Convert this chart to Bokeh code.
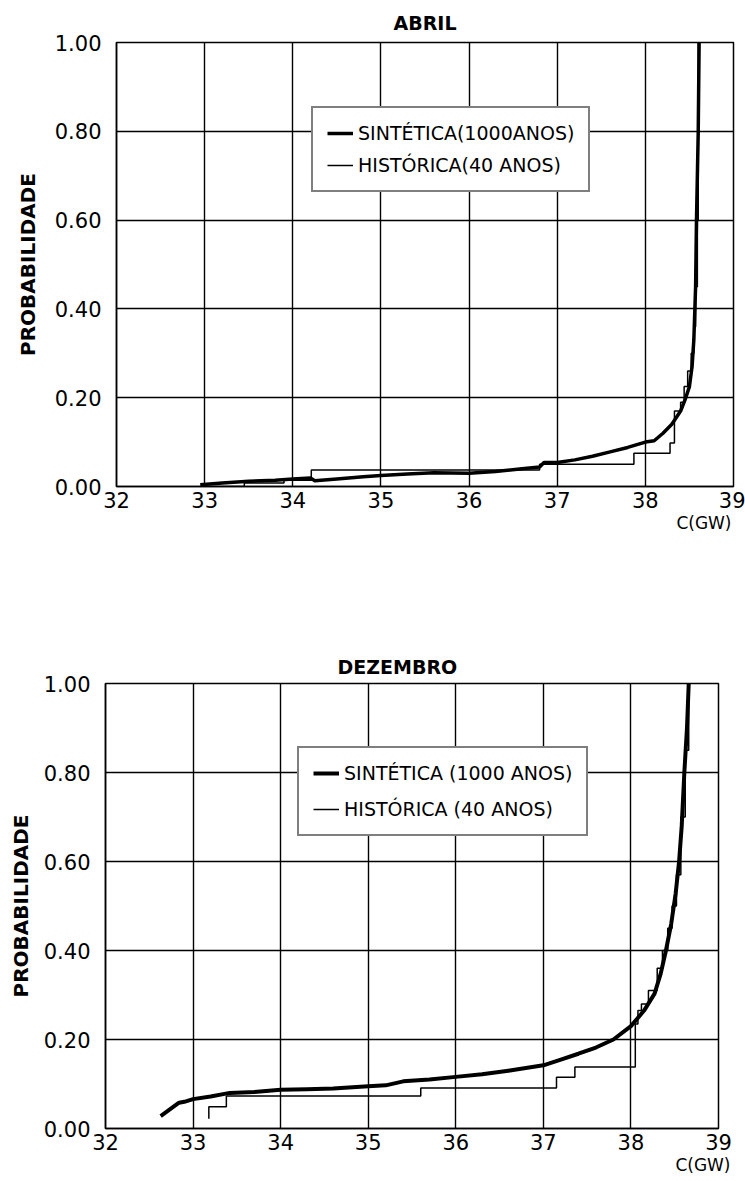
from bokeh.plotting import figure
from bokeh.models import Range1d, FixedTicker, Legend, LegendItem, PrintfTickFormatter, Title
from bokeh.embed import file_html
from bokeh.resources import INLINE

FONT = "DejaVu Sans"

x_ticks = [32, 33, 34, 35, 36, 37, 38, 39]
y_ticks = [0.0, 0.2, 0.4, 0.6, 0.8, 1.0]

# ---- ABRIL ----
abr_syn_x = [32.95, 33.2, 33.5, 33.8, 34.0, 34.2, 34.25, 34.5, 34.8, 35.0, 35.3, 35.6,
             36.0, 36.3, 36.6, 36.8, 36.85, 37.0, 37.2, 37.4, 37.6, 37.8, 38.0, 38.1,
             38.2, 38.3, 38.4, 38.45, 38.5, 38.53, 38.55, 38.57, 38.58, 38.6, 38.61]
abr_syn_y = [0.004, 0.008, 0.012, 0.014, 0.017, 0.019, 0.013, 0.017, 0.022, 0.025, 0.028, 0.031,
             0.030, 0.034, 0.040, 0.044, 0.054, 0.054, 0.060, 0.068, 0.078, 0.088, 0.100, 0.103,
             0.120, 0.140, 0.170, 0.195, 0.225, 0.270, 0.330, 0.450, 0.600, 0.800, 1.000]
abr_hist_x = [33.0, 33.45, 33.9, 34.21, 36.8, 37.87, 38.28, 38.33, 38.40, 38.44, 38.48,
              38.52, 38.55, 38.57, 38.59, 38.6]
abr_hist_y = [0.0, 0.008, 0.014, 0.037, 0.050, 0.075, 0.098, 0.170, 0.190, 0.225, 0.260,
              0.300, 0.360, 0.450, 0.600, 1.000]

# ---- DEZEMBRO ----
dez_syn_x = [32.63, 32.75, 32.84, 32.9, 33.0, 33.2, 33.42, 33.7, 34.0, 34.3, 34.6, 35.0,
             35.2, 35.4, 35.7, 36.0, 36.3, 36.6, 37.0, 37.2, 37.4, 37.6, 37.8, 38.0, 38.15,
             38.27, 38.34, 38.40, 38.46, 38.51, 38.55, 38.58, 38.61, 38.64, 38.66]
dez_syn_y = [0.028, 0.045, 0.058, 0.060, 0.066, 0.072, 0.080, 0.082, 0.087, 0.088, 0.090, 0.095,
             0.097, 0.106, 0.110, 0.116, 0.122, 0.130, 0.142, 0.155, 0.168, 0.182, 0.200, 0.230,
             0.265, 0.303, 0.348, 0.400, 0.460, 0.527, 0.600, 0.680, 0.800, 0.900, 1.000]
dez_hist_x = [33.18, 33.18, 33.38, 35.6, 37.15, 37.36, 38.05, 38.08, 38.12, 38.2, 38.3,
              38.36, 38.42, 38.47, 38.52, 38.57, 38.62, 38.66]
dez_hist_y = [0.022, 0.049, 0.073, 0.091, 0.115, 0.138, 0.235, 0.265, 0.280, 0.310, 0.360,
              0.400, 0.450, 0.500, 0.570, 0.700, 0.850, 1.000]


def make_fig(height, top, bottom, left, right, title, title_align, title_offset, title_standoff,
             ylabel_standoff):
    p = figure(width=745, height=height, x_range=Range1d(32, 39), y_range=Range1d(0, 1),
               output_backend="svg", toolbar_location=None,
               min_border_top=top, min_border_bottom=bottom,
               min_border_left=left, min_border_right=right)
    p.title = Title(text=title, align=title_align, offset=title_offset, standoff=title_standoff,
                    text_font=FONT, text_font_size="19px", text_font_style="bold",
                    text_color="black")
    p.xaxis.ticker = FixedTicker(ticks=x_ticks)
    p.yaxis.ticker = FixedTicker(ticks=y_ticks)
    p.yaxis.formatter = PrintfTickFormatter(format="%.2f")
    for ax in (p.xaxis, p.yaxis):
        ax.major_tick_line_color = None
        ax.minor_tick_line_color = None
        ax.major_tick_out = 0
        ax.major_tick_in = 0
        ax.axis_line_color = "black"
        ax.axis_line_width = 1.5
        ax.major_label_text_font = FONT
        ax.major_label_text_font_size = "21px"
        ax.major_label_text_color = "black"
    p.xaxis.major_label_standoff = 5
    p.yaxis.major_label_standoff = 15
    p.yaxis.axis_label = "PROBABILIDADE"
    p.yaxis.axis_label_text_font = FONT
    p.yaxis.axis_label_text_font_size = "20px"
    p.yaxis.axis_label_text_font_style = "bold"
    p.yaxis.axis_label_text_color = "black"
    p.yaxis.axis_label_standoff = ylabel_standoff
    for g in (p.xgrid, p.ygrid):
        g.grid_line_color = "black"
        g.grid_line_width = 1.4
        g.grid_line_alpha = 1.0
    p.outline_line_color = "black"
    p.outline_line_width = 1.5
    p.background_fill_color = "white"
    return p


def add_legend(p, syn, hist, syn_label, hist_label, loc, spacing):
    leg = Legend(items=[LegendItem(label=syn_label, renderers=[syn]),
                        LegendItem(label=hist_label, renderers=[hist])],
                 location=loc, padding=14, spacing=spacing, glyph_width=26, glyph_height=20,
                 label_standoff=5, label_text_font=FONT, label_text_font_size="19px",
                 label_text_color="black", border_line_color="black", border_line_width=2,
                 background_fill_color="white", background_fill_alpha=1.0)
    p.add_layout(leg)


def add_unit(p, offset):
    p.add_layout(Title(text="C(GW)", align="right", offset=offset, standoff=0,
                       text_font=FONT, text_font_size="17px", text_font_style="normal",
                       text_color="black"), "below")


# Top chart
p1 = make_fig(590, 42, 104, 116, 12, "ABRIL", "center", 0, 18, 12)
s1 = p1.line(abr_syn_x, abr_syn_y, line_width=3.5, color="black", line_join="round")
h1 = p1.step(abr_hist_x, abr_hist_y, mode="after", line_width=1.5, color="black")
add_legend(p1, s1, h1, "SINTÉTICA(1000ANOS)", "HISTÓRICA(40 ANOS)", (195, 294), 10)
add_unit(p1, 2)

# Bottom chart
p2 = make_fig(591, 93, 53, 105, 27, "DEZEMBRO", "left", 232, 12, 8)
s2 = p2.line(dez_syn_x, dez_syn_y, line_width=4, color="black", line_join="round")
h2 = p2.step(dez_hist_x, dez_hist_y, mode="after", line_width=1.5, color="black")
add_legend(p2, s2, h2, "SINTÉTICA (1000 ANOS)", "HISTÓRICA (40 ANOS)", (192, 292), 14)
add_unit(p2, -12)

open("out.html", "w").write(file_html([p1, p2], INLINE))
